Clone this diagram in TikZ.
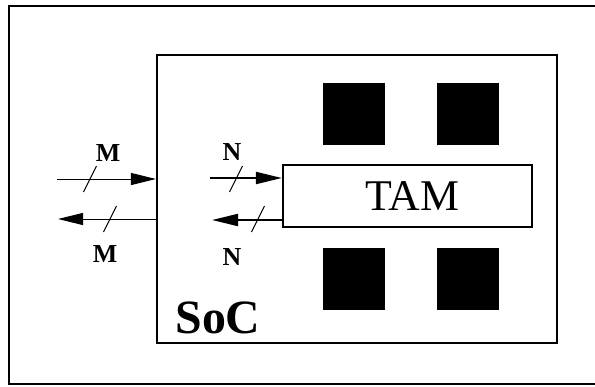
\documentclass[tikz,border=0pt]{standalone}
\usepackage{fontspec}
\setmainfont{Liberation Serif}
\usetikzlibrary{arrows.meta, positioning, calc}

\begin{document}
\begin{tikzpicture}[
    x=1bp, y=-1bp,
    frame/.style={draw=black, line width=2.2bp},
    chip/.style={frame, inner sep=0pt, minimum width=400bp, minimum height=288bp},
    core/.style={fill=black, inner sep=0pt, minimum size=62bp},
    tambox/.style={frame, fill=white, inner sep=0pt, minimum width=249bp, minimum height=62bp,
      font=\fontsize{44}{44}\selectfont},
    lbl/.style={inner sep=0pt, font=\fontsize{26}{26}\selectfont\bfseries},
    marr/.style={-{Triangle[length=25bp, width=12bp]}, line width=1bp},
    narr/.style={-{Triangle[length=26bp, width=12bp]}, line width=2bp},
    tick/.style={line width=1bp},
  ]
    \useasboundingbox (0,0) rectangle (595,386);
    \draw[frame] (9,6) rectangle (610,384);

    \node[chip] (soc) at (357,199) {};
    \node[inner sep=0pt, font=\fontsize{48}{48}\selectfont\bfseries] (soclbl) at (218,318) {SoC};

    \node[core] (c1) at (354,113.5) {};
    \node[core] (c2) at (467.5,113.5) {};
    \node[core] (c3) at (354,278.5) {};
    \node[core] (c4) at (467.5,278.5) {};

    \node[tambox] (tam) at (407.5,196) {\hspace{10bp}TAM};

    \coordinate (min) at (57,179);
    \coordinate (mout) at (58,219);
    \coordinate (nin) at (210,178);
    \coordinate (nout) at (212,220);

    \draw[marr] (min) -- (min -| soc.west);
    \draw[marr] (mout -| soc.west) -- (mout);
    \draw[narr] (nin) -- (nin -| tam.west);
    \draw[narr] (nout -| tam.west) -- (nout);

    \foreach \x/\y in {90/179, 110/219, 236/179, 258/219}
      \draw[tick] (\x,\y) ++(-6.5,13) -- ++(13,-26);

    \node[lbl] (m1) at (108,153) {M};
    \node[lbl] (m2) at (105,254) {M};
    \node[lbl] (n1) at (232,152) {N};
    \node[lbl] (n2) at (232,257) {N};
\end{tikzpicture}
\end{document}
